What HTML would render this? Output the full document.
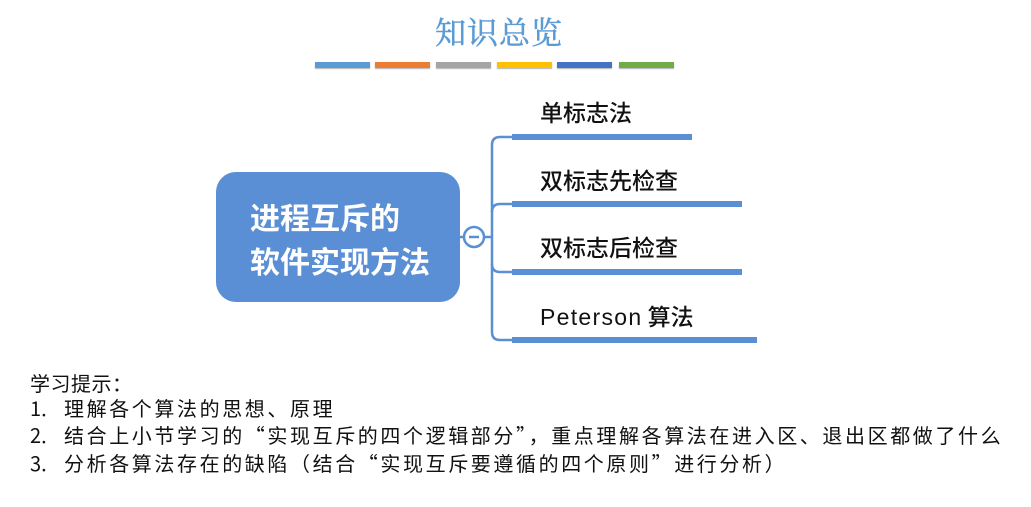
<!DOCTYPE html>
<html><head><meta charset="utf-8"><style>
body{margin:0;width:1031px;height:507px;background:#fff;position:relative;overflow:hidden;font-family:"Liberation Sans","Noto Sans CJK SC",sans-serif}
.a{position:absolute;white-space:nowrap}
.bar{position:absolute;top:62px;height:6px;width:55px;box-shadow:0 1px 1px rgba(0,0,0,.3)}
.lbl{position:absolute;font-size:23px;color:#111;left:540px;white-space:nowrap;line-height:26px;font-weight:500;font-family:"Noto Sans CJK SC",sans-serif}
.ln{position:absolute;left:30px;font-size:20px;color:#111;letter-spacing:2.6px;white-space:nowrap;line-height:24px;font-family:"Noto Sans CJK SC",sans-serif}
.ln span{display:inline-block;width:34px;letter-spacing:0}
</style></head><body>
<div class="a" style="left:435px;top:8px;font-size:31px;letter-spacing:1px;color:#5b9bd5;-webkit-text-stroke:0.5px #5b9bd5;font-family:'Noto Serif CJK SC',serif">知识总览</div>
<div class="bar" style="left:315px;background:#5b9bd5"></div>
<div class="bar" style="left:375px;background:#ed7d31"></div>
<div class="bar" style="left:436px;background:#a5a5a5"></div>
<div class="bar" style="left:497px;background:#ffc000"></div>
<div class="bar" style="left:557px;background:#4472c4"></div>
<div class="bar" style="left:619px;background:#70ad47"></div>
<div class="a" style="left:216px;top:172px;width:244px;height:130px;border-radius:20px;background:#5a8fd5"></div>
<div class="a" style="left:250px;top:198px;font-size:30px;font-weight:bold;color:#fff;line-height:44px">进程互斥的<br>软件实现方法</div>
<svg class="a" style="left:0;top:0" width="1031" height="507">
<g fill="none" stroke="#5a8fd5" stroke-width="2.5">
<path d="M512 137 H500 Q492 137 492 145 V332 Q492 340 500 340 H512"/>
<path d="M512 204 H500 Q492 204 492 212"/>
<path d="M512 272 H500 Q492 272 492 264"/>
<line x1="460" y1="237" x2="492" y2="237"/>
</g>
<circle cx="474" cy="237" r="10" fill="#fff" stroke="#5a8fd5" stroke-width="2.5"/>
<line x1="469" y1="237" x2="479" y2="237" stroke="#5a8fd5" stroke-width="2.5"/>
<g fill="#5a8fd5">
<rect x="512" y="134" width="180" height="6"/>
<rect x="512" y="201" width="230" height="6"/>
<rect x="512" y="269" width="230" height="6"/>
<rect x="512" y="337" width="245" height="6"/>
</g>
</svg>
<div class="lbl" style="top:98px">单标志法</div>
<div class="lbl" style="top:166px">双标志先检查</div>
<div class="lbl" style="top:233px">双标志后检查</div>
<div class="lbl" style="top:302px"><span style="font-family:'Liberation Sans',sans-serif;letter-spacing:1.3px">Peterson</span> 算法</div>
<div class="ln" style="top:371px;letter-spacing:0.5px">学习提示：</div>
<div class="ln" style="top:396px"><span>1.</span>理解各个算法的思想、原理</div>
<div class="ln" style="top:423px"><span>2.</span>结合上小节学习的“实现互斥的四个逻辑部分”，重点理解各算法在进入区、退出区都做了什么</div>
<div class="ln" style="top:451px"><span>3.</span>分析各算法存在的缺陷（结合“实现互斥要遵循的四个原则”进行分析）</div>
</body></html>
